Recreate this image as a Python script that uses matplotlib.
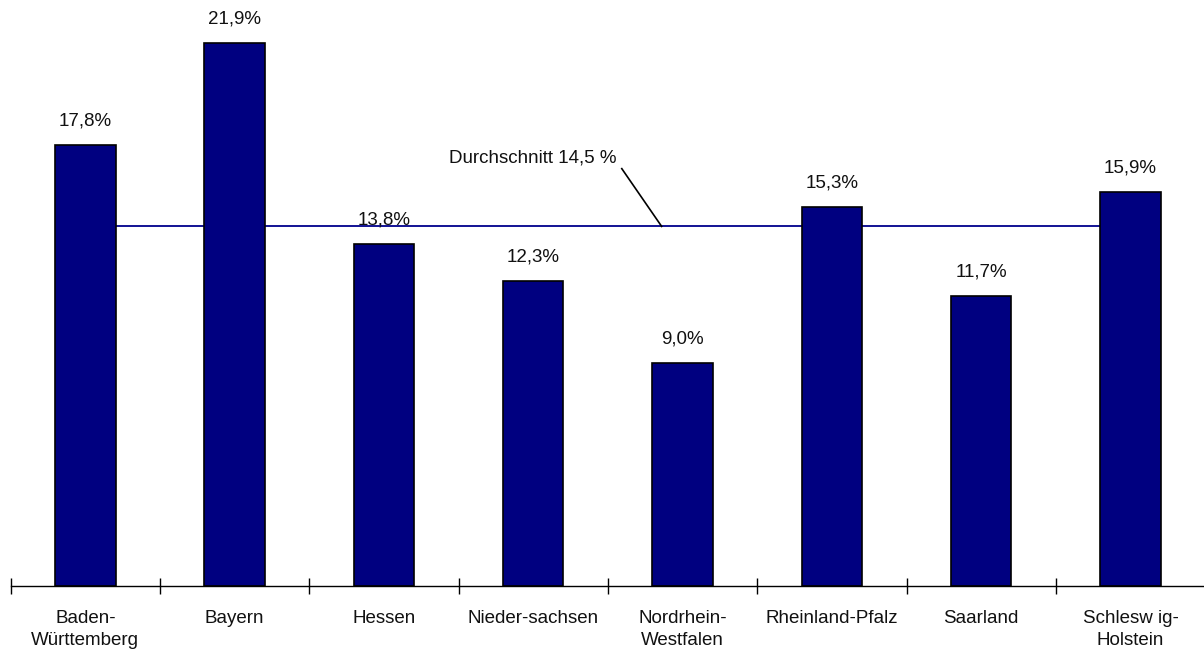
import matplotlib
matplotlib.use("Agg")
import matplotlib.pyplot as plt

categories = ["Baden-\nWürttemberg", "Bayern", "Hessen", "Nieder-sachsen",
              "Nordrhein-\nWestfalen", "Rheinland-Pfalz", "Saarland", "Schlesw ig-\nHolstein"]
values = [17.8, 21.9, 13.8, 12.3, 9.0, 15.3, 11.7, 15.9]
value_labels = ["17,8%", "21,9%", "13,8%", "12,3%", "9,0%", "15,3%", "11,7%", "15,9%"]
average = 14.5
average_label = "Durchschnitt 14,5 %"

plt.rcParams['font.family'] = ['Liberation Sans', 'DejaVu Sans']
FS = 13.5

fig = plt.figure(figsize=(12.04, 6.52), dpi=100)
ax = fig.add_axes([10.7/1204, 1 - 586/652, 8 * 149.3/1204, 586/652])
ax.set_clip_on(False)

x = list(range(len(categories)))
ax.plot([x[0], x[-1]], [average, average], color="#00008B", lw=1.3, zorder=1)
ax.bar(x, values, width=0.405, color="#000080", edgecolor="black", linewidth=1.2, zorder=2)

for xi, v, lab in zip(x, values, value_labels):
    ax.annotate(lab, (xi, v), xytext=(0, 17), textcoords="offset points",
                ha="center", va="center", fontsize=FS, color="#111111")

ax.text(3.558, 17.25, average_label, ha="right", va="center", fontsize=FS, color="#111111")
ax.plot([3.593, 3.860], [16.83, average], color="black", lw=1.2, zorder=3)

ax.set_xlim(-0.5, len(categories) - 0.5)
ax.set_ylim(0, 23.63)
for s in ["top", "right", "left"]:
    ax.spines[s].set_visible(False)
ax.spines["bottom"].set_linewidth(1.0)
ax.set_yticks([])
ax.set_xticks([i - 0.5 for i in range(len(categories))], minor=False)
ax.set_xticklabels([])
ax.tick_params(axis="x", which="major", length=11, direction="inout", width=1)
ax.set_xticks(x, minor=True)
ax.set_xticklabels(categories, minor=True, fontsize=FS, color="#111111", linespacing=1.4)
ax.tick_params(axis="x", which="minor", length=0, pad=17)

fig.savefig("out.png", dpi=100)
